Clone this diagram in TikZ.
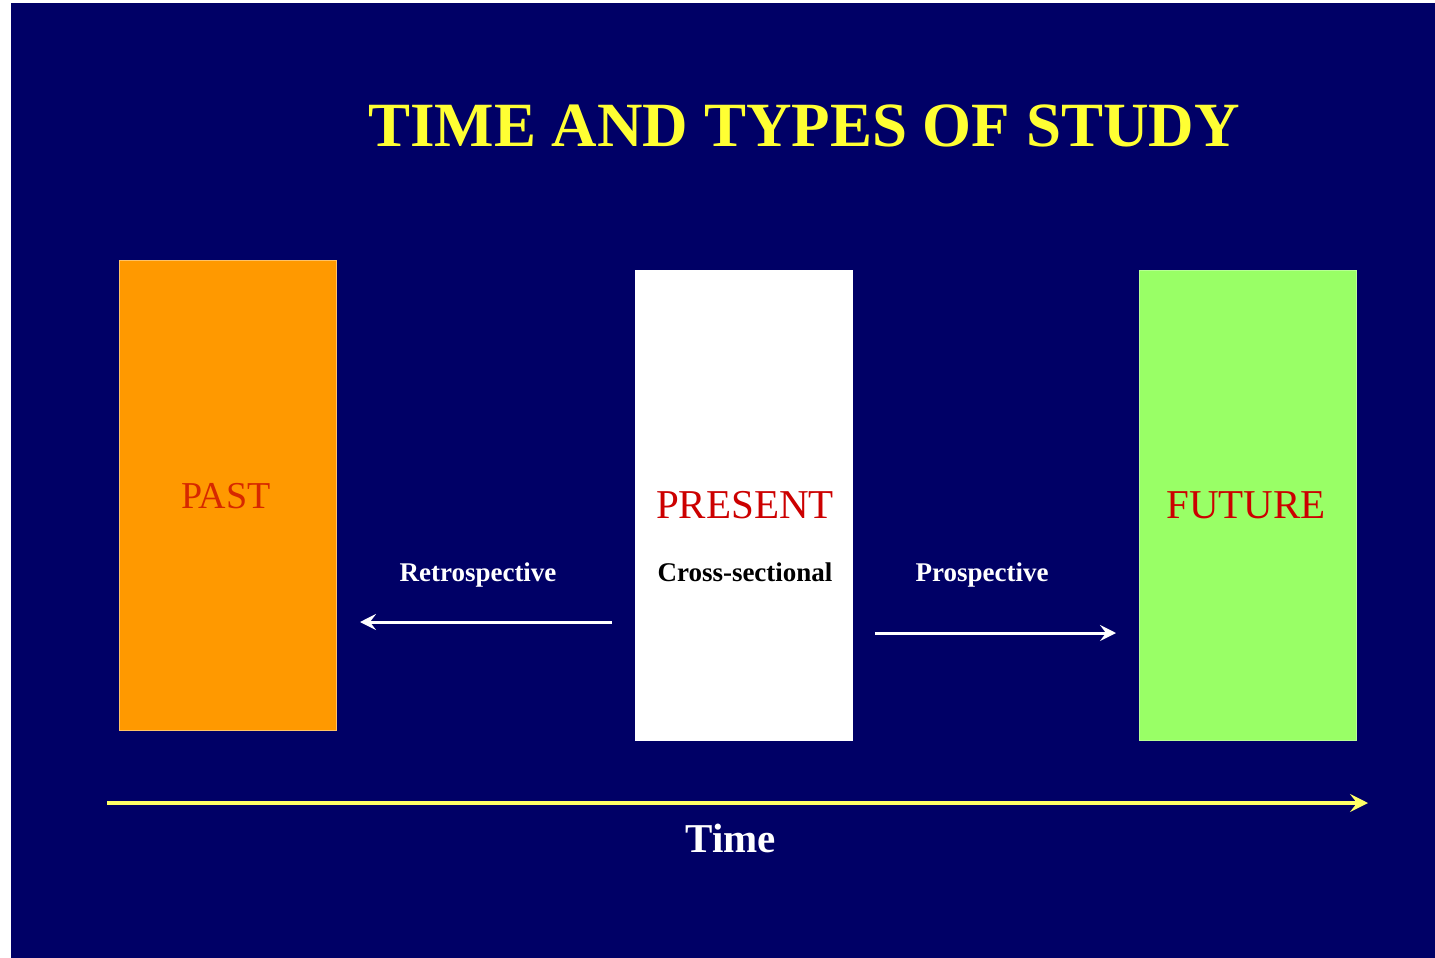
\documentclass[tikz,border=0pt]{standalone}
\usepackage{fontspec}
\setmainfont{Liberation Serif}
\usetikzlibrary{arrows.meta}
\definecolor{bgblue}{RGB}{0,0,102}
\definecolor{pastor}{RGB}{255,153,0}
\definecolor{futgreen}{RGB}{153,255,102}
\definecolor{ttlyel}{RGB}{255,255,51}
\definecolor{lblred}{RGB}{204,0,0}
\definecolor{pastred}{RGB}{214,40,0}
\definecolor{timeyel}{RGB}{255,255,102}
\tikzset{
  period/.style={minimum width=217pt, minimum height=470pt, inner sep=0pt, anchor=north west, line width=1pt},
  bigword/.style={anchor=base, text=lblred, inner sep=0pt},
  studylbl/.style={anchor=base, inner sep=0pt, font=\fontsize{27}{30}\selectfont\bfseries},
  studyarrow/.style={draw=white, line width=3pt, -{Stealth[length=16pt,width=16pt,inset=6pt]}},
}
\begin{document}
\begin{tikzpicture}[x=1pt,y=-1pt]
\useasboundingbox (0,0) rectangle (1435,958);
\fill[white] (0,0) rectangle (1435,958);
\fill[bgblue] (11,3) rectangle (1435,958);

\node[anchor=base, inner sep=0pt, text=ttlyel, font=\fontsize{63}{70}\selectfont\bfseries] (title) at (804,146) {TIME AND TYPES OF STUDY};

\node[period, fill=pastor, draw=pastor!60!white] (past) at (119,260) {};
\node[period, fill=white, draw=white] (present) at (635,270) {};
\node[period, fill=futgreen, draw=futgreen!70!white] (future) at (1139,270) {};

\node[bigword, text=pastred, font=\fontsize{38}{42}\selectfont] (pastlbl) at (226,508) {PAST};
\node[bigword, font=\fontsize{41}{45}\selectfont] (presentlbl) at (745,518) {PRESENT};
\node[bigword, font=\fontsize{41}{45}\selectfont] (futurelbl) at (1246,518) {FUTURE};

\node[studylbl, text=white] (retro) at (478,581) {Retrospective};
\node[studylbl, text=black] (cross) at (745,581) {Cross-sectional};
\node[studylbl, text=white] (prosp) at (982,581) {Prospective};

\coordinate (rs) at (612,622);
\coordinate (re) at (360,622);
\coordinate (ps) at (875,633);
\coordinate (pe) at (1116,633);
\draw[studyarrow] (rs) -- (re);
\draw[studyarrow] (ps) -- (pe);

\coordinate (ts) at (107,803);
\coordinate (te) at (1368,803);
\draw[draw=timeyel, line width=3.5pt, -{Stealth[length=18pt,width=18pt,inset=7pt]}] (ts) -- (te);

\node[anchor=base, inner sep=0pt, text=white, font=\fontsize{41}{45}\selectfont\bfseries] (timelbl) at (731,852) {Time};
\end{tikzpicture}
\end{document}
